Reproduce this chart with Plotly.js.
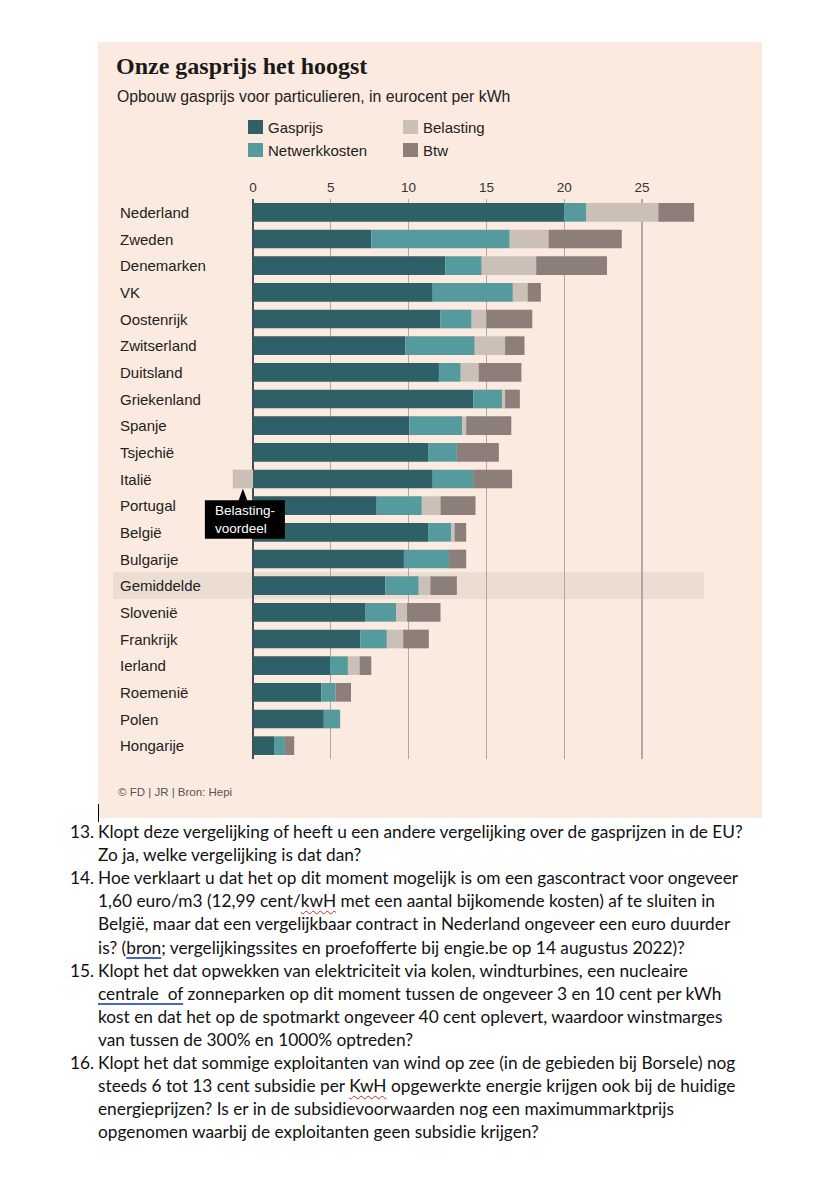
<!DOCTYPE html>
<html>
<head>
<meta charset="utf-8">
<script src="https://cdn.plot.ly/plotly-3.0.1.min.js"></script>
<style>
  html, body { margin:0; padding:0; background:#ffffff; width:839px; height:1200px; overflow:hidden; }
  #chart { position:absolute; left:98px; top:42px; width:664px; height:776px; }
  #cursor { position:absolute; left:98px; top:804px; width:1px; height:18px; background:#000; }
  .ln { position:absolute; white-space:nowrap; font-family:Lato, "Liberation Sans", sans-serif; font-size:17.3px; line-height:23px; color:#111; }
  .num { position:absolute; white-space:nowrap; font-family:Lato, "Liberation Sans", sans-serif; font-size:17.3px; line-height:23px; color:#111; }
  .wavy { text-decoration: underline wavy #d22; text-decoration-thickness:1px; text-underline-offset:3px; }
  .blue { text-decoration: underline #4466cc; text-decoration-thickness:1.5px; text-underline-offset:3px; }
</style>
</head>
<body>
<div id="chart"></div>
<div id="cursor"></div>
<div id="doc"></div>
<script>
// ---------- data ----------
const categories = ['Nederland','Zweden','Denemarken','VK','Oostenrijk','Zwitserland','Duitsland','Griekenland','Spanje','Tsjechië','Italië','Portugal','België','Bulgarije','Gemiddelde','Slovenië','Frankrijk','Ierland','Roemenië','Polen','Hongarije'];
const gasprijs      = [20.0, 7.6, 12.35, 11.55, 12.05, 9.8, 11.95, 14.15, 10.05, 11.25, 11.55, 7.95, 11.25, 9.7, 8.5, 7.2, 6.9, 4.95, 4.4, 4.55, 1.35];
const netwerkkosten = [1.4, 8.9, 2.35, 5.15, 2.0, 4.45, 1.4, 1.85, 3.4, 1.85, 2.6, 2.9, 1.5, 2.9, 2.15, 2.0, 1.7, 1.15, 0.9, 1.05, 0.7];
const belasting     = [4.65, 2.5, 3.5, 0.95, 0.95, 1.95, 1.15, 0.2, 0.25, 0, -1.3, 1.2, 0.2, 0, 0.75, 0.7, 1.05, 0.75, 0, 0, 0];
const btw           = [2.3, 4.7, 4.55, 0.85, 2.95, 1.25, 2.75, 0.95, 2.9, 2.7, 2.5, 2.25, 0.75, 1.1, 1.7, 2.15, 1.65, 0.75, 1.0, 0, 0.6];
const seriesNames   = ['Gasprijs','Netwerkkosten','Belasting','Btw'];
const seriesColors  = ['#2F6068','#559A9C','#CBC0B8','#8C7E79'];
const tickValues    = [0,5,10,15,20,25];
const tickLabels    = ['0','5','10','15','20','25'];
const highlightCat  = 'Gemiddelde';
const calloutCat    = 'Italië';
const calloutText   = 'Belasting-<br>voordeel';
const titleText     = 'Onze gasprijs het hoogst';
const subtitleText  = 'Opbouw gasprijs voor particulieren, in eurocent per kWh';
const sourceText    = '© FD | JR | Bron: Hepi';

// ---------- layout geometry (container pixels) ----------
const W = 664, H = 776;
const L = 15, R = 606, T = 157, B = 717;   // plot area
const PW = R - L, PH = B - T;
const zeroPx = 155, unitPx = 15.56;
const xmin = -(zeroPx - L) / unitPx, xmax = (R - zeroPx) / unitPx;
const rowPx = PH / categories.length;
const px = x => (x - L) / PW;          // container px -> paper x
const py = y => (B - y) / PH;          // container px -> paper y
const OX = 98, OY = 42;                // page offset of container
const ppx = x => px(x - OX), ppy = y => py(y - OY); // page px -> paper

const traces = [gasprijs, netwerkkosten, belasting, btw].map((vals, i) => ({
  type:'bar', orientation:'h', name:seriesNames[i], x:vals, y:categories,
  marker:{color:seriesColors[i], line:{width:0}}, hoverinfo:'skip'
}));

const shapes = [];
const annotations = [];
const hi = categories.indexOf(highlightCat);
shapes.push({type:'rect', layer:'below', xref:'paper', yref:'y', x0:0, x1:1, y0:hi-0.5, y1:hi+0.5, fillcolor:'#EBDDD2', line:{width:0}});

// legend (2 columns)
const legendPos = [[248,120],[248,143],[403,120],[403,143]];
seriesNames.forEach((n,i) => {
  const [lx,ly] = legendPos[i];
  shapes.push({type:'rect', xref:'paper', yref:'paper', x0:ppx(lx), x1:ppx(lx+15), y0:ppy(ly+14), y1:ppy(ly), fillcolor:seriesColors[i], line:{width:0}});
  annotations.push({xref:'paper', yref:'paper', x:ppx(lx+18), y:ppy(ly+7), xanchor:'left', yanchor:'middle', showarrow:false, text:n, font:{family:'Liberation Sans', size:15, color:'#222'}});
});

// category labels
categories.forEach(c => {
  annotations.push({xref:'paper', yref:'y', x:ppx(118), y:c, xanchor:'left', yanchor:'middle', showarrow:false, text:c, font:{family:'Liberation Sans', size:15, color:'#222'}});
});

// title, subtitle, source
annotations.push({xref:'paper', yref:'paper', x:ppx(114), y:ppy(66), xanchor:'left', yanchor:'middle', showarrow:false, text:'<b>'+titleText+'</b>', font:{family:'Liberation Serif', size:24, color:'#1a1a1a'}});
annotations.push({xref:'paper', yref:'paper', x:ppx(115), y:ppy(96), xanchor:'left', yanchor:'middle', showarrow:false, text:subtitleText, font:{family:'Liberation Sans', size:15.8, color:'#222'}});
annotations.push({xref:'paper', yref:'paper', x:ppx(116), y:ppy(792), xanchor:'left', yanchor:'middle', showarrow:false, text:sourceText, font:{family:'Liberation Sans', size:11.5, color:'#555'}});

// callout for negative tax (Italië)
const ci = categories.indexOf(calloutCat);
const cx = belasting[ci] / 2;          // centre of negative bar (data units)
const dx = p => p / unitPx, dy = p => p / rowPx;
const tipY = ci + 0.5*( (1-0.3) ) + dy(0.5);
shapes.push({type:'path', xref:'x', yref:'y',
  path:`M ${cx} ${tipY} L ${cx - dx(4.5)} ${tipY + dy(12)} L ${cx + dx(4.5)} ${tipY + dy(12)} Z`,
  fillcolor:'#000', line:{width:0}});
shapes.push({type:'rect', xref:'x', yref:'y', x0:cx - dx(38), x1:cx + dx(42), y0:tipY + dy(11.5), y1:tipY + dy(50), fillcolor:'#000', line:{width:0}});
annotations.push({xref:'x', yref:'y', x:cx - dx(30), y:tipY + dy(31), xanchor:'left', yanchor:'middle', showarrow:false, align:'left', text:calloutText, font:{family:'Liberation Sans', size:13.5, color:'#fff'}});

const layout = {
  width:W, height:H,
  margin:{l:L, r:W-R, t:T, b:H-B, pad:0},
  paper_bgcolor:'#FBEADF', plot_bgcolor:'#FBEADF',
  barmode:'relative', bargap:0.3, showlegend:false,
  xaxis:{range:[xmin,xmax], side:'top', tickmode:'array', tickvals:tickValues, ticktext:tickLabels,
         showgrid:true, gridcolor:'#B3A79F', gridwidth:1.2, zeroline:true, zerolinecolor:'#4a4a4a', zerolinewidth:1.6,
         showline:false, ticks:'', ticklabelstandoff:3, tickfont:{family:'Liberation Sans', size:13.5, color:'#333'}, fixedrange:true},
  yaxis:{type:'category', categoryorder:'array', categoryarray:categories, range:[categories.length-0.5, -0.5],
         showticklabels:false, showgrid:false, zeroline:false, showline:false, ticks:'', fixedrange:true},
  shapes:shapes, annotations:annotations
};
Plotly.newPlot('chart', traces, layout, {staticPlot:true, displayModeBar:false});

// ---------- document text ----------
const docLines = [
  ['13.', 'Klopt deze vergelijking of heeft u een andere vergelijking over de gasprijzen in de EU?'],
  ['',    'Zo ja, welke vergelijking is dat dan?'],
  ['14.', 'Hoe verklaart u dat het op dit moment mogelijk is om een gascontract voor ongeveer'],
  ['',    '1,60 euro/m3 (12,99 cent/<span class="wavy">kwH</span> met een aantal bijkomende kosten) af te sluiten in'],
  ['',    'België, maar dat een vergelijkbaar contract in Nederland ongeveer een euro duurder'],
  ['',    'is? (<span class="blue">bron</span>; vergelijkingssites en proefofferte bij engie.be op 14 augustus 2022)?'],
  ['15.', 'Klopt het dat opwekken van elektriciteit via kolen, windturbines, een nucleaire'],
  ['',    '<span class="blue">centrale&nbsp; of</span> zonneparken op dit moment tussen de ongeveer 3 en 10 cent per kWh'],
  ['',    'kost en dat het op de spotmarkt ongeveer 40 cent oplevert, waardoor winstmarges'],
  ['',    'van tussen de 300% en 1000% optreden?'],
  ['16.', 'Klopt het dat sommige exploitanten van wind op zee (in de gebieden bij Borsele) nog'],
  ['',    'steeds 6 tot 13 cent subsidie per <span class="wavy">KwH</span> opgewerkte energie krijgen ook bij de huidige'],
  ['',    'energieprijzen? Is er in de subsidievoorwaarden nog een maximummarktprijs'],
  ['',    'opgenomen waarbij de exploitanten geen subsidie krijgen?']
];
const doc = document.getElementById('doc');
docLines.forEach((l, i) => {
  const top = 820 + i * 23.1;
  if (l[0]) {
    const n = document.createElement('div'); n.className = 'num';
    n.style.left = '70px'; n.style.top = top + 'px'; n.textContent = l[0]; doc.appendChild(n);
  }
  const d = document.createElement('div'); d.className = 'ln';
  d.style.left = '98px'; d.style.top = top + 'px'; d.innerHTML = l[1]; doc.appendChild(d);
});
</script>
</body>
</html>
